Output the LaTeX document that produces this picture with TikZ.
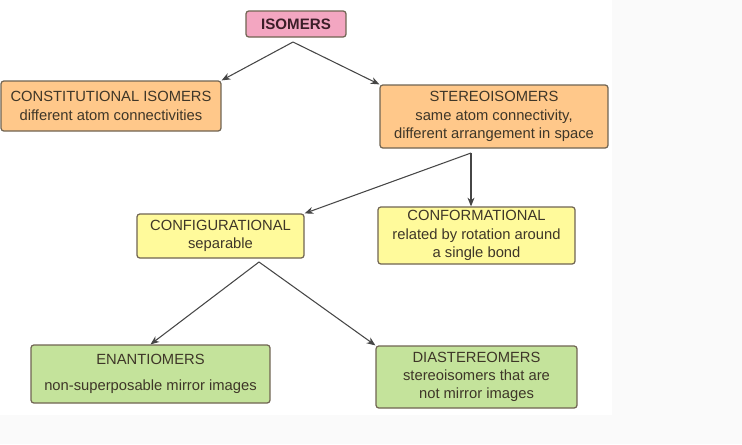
\documentclass[tikz,border=0pt]{standalone}
\usepackage{fontspec}
\setmainfont{Liberation Sans}
\usetikzlibrary{arrows.meta}
\definecolor{isopink}{RGB}{243,166,193}
\definecolor{boxorange}{RGB}{255,200,138}
\definecolor{boxyellow}{RGB}{255,250,155}
\definecolor{boxgreen}{RGB}{196,227,155}
\definecolor{boxedge}{RGB}{112,100,82}
\definecolor{boxtext}{RGB}{62,54,40}
\definecolor{linkgray}{RGB}{70,70,70}
\definecolor{pagebg}{RGB}{250,250,250}
\tikzset{
  isobox/.style={draw=boxedge,line width=0.7pt,rounded corners=1.6pt,inner sep=0pt,
    align=center,text=boxtext,font=\fontsize{8.4}{10.4}\selectfont},
  link/.style={draw=linkgray,line width=0.6pt,-{Stealth[length=5pt,width=4pt]}}
}
\begin{document}
\begin{tikzpicture}[x=0.02cm,y=-0.02cm]
\useasboundingbox (0,0) rectangle (742,444);
\fill[pagebg] (0,0) rectangle (742,444);
\fill[white] (0,0) rectangle (612,415);
\node[isobox,fill=isopink,minimum width=2cm,minimum height=0.52cm,font=\fontsize{8.6}{10}\selectfont\bfseries,text={rgb,255:red,60;green,30;blue,40}] (iso) at (296,24) {ISOMERS};
\node[isobox,fill=boxorange,minimum width=4.4cm,minimum height=1cm] (con) at (111,106) {CONSTITUTIONAL ISOMERS\\different atom connectivities};
\node[isobox,fill=boxorange,minimum width=4.56cm,minimum height=1.26cm] (ste) at (494,116.5) {STEREOISOMERS\\same atom connectivity,\\different arrangement in space};
\node[isobox,fill=boxyellow,minimum width=3.34cm,minimum height=0.88cm] (cfg) at (220.5,236) {CONFIGURATIONAL\\separable};
\node[isobox,fill=boxyellow,minimum width=3.94cm,minimum height=1.14cm] (cfm) at (476.5,235.5) {CONFORMATIONAL\\related by rotation around\\a single bond};
\node[isobox,fill=boxgreen,minimum width=4.78cm,minimum height=1.16cm] (ena) at (150.5,374) {ENANTIOMERS\\[4pt]non-superposable mirror images};
\node[isobox,fill=boxgreen,minimum width=4.02cm,minimum height=1.24cm] (dia) at (476.5,377) {DIASTEREOMERS\\stereoisomers that are\\not mirror images};
\coordinate (isoJ) at (293,42);
\coordinate (steJ) at (471,153);
\coordinate (cfgJ) at (259,262);
\draw[link] (isoJ) -- (con.north east);
\draw[link] (isoJ) -- (ste.north west);
\draw[link] (steJ) -- (cfg.north east);
\draw[link] (steJ) -- (steJ |- cfm.north);
\draw[link] (cfgJ) -- (ena.north);
\draw[link] (cfgJ) -- (dia.north west);
\end{tikzpicture}
\end{document}
